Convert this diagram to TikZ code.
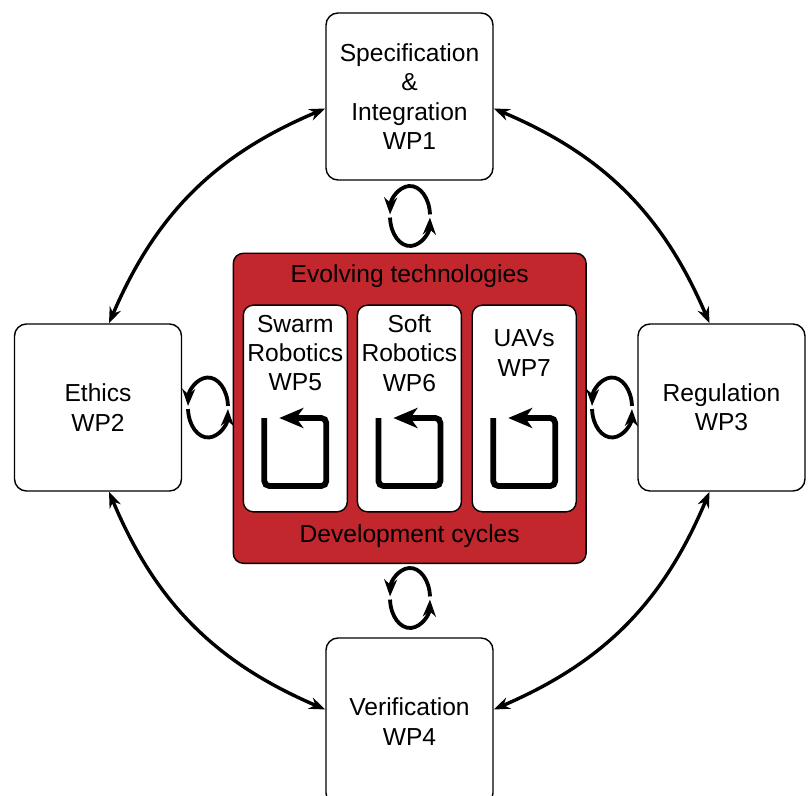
\documentclass[tikz,border=0pt]{standalone}
\usepackage{fontspec}
\setmainfont{Liberation Sans}
\definecolor{wpred}{RGB}{193,39,45}
\usepackage{tikz}
\usetikzlibrary{arrows.meta,positioning,calc}

\begin{document}
\begin{tikzpicture}[x=0.5pt,y=-0.5pt,>=Stealth,
    font=\fontsize{12.3}{14.7}\selectfont,
    wpbox/.style={draw,fill=white,rounded corners=6pt,line width=0.7pt,
        minimum width=83.5pt,minimum height=83.5pt,align=center},
    techbox/.style={draw,fill=white,rounded corners=5pt,line width=0.7pt,
        minimum width=52pt,minimum height=103.3pt},
    link/.style={{Stealth[length=8pt,width=6pt]}-{Stealth[length=8pt,width=6pt]},
        line width=1.7pt},
    loopline/.style={-{Stealth[length=8.5pt,width=6.5pt]},line width=1.9pt},
    cycicon/.style={-{Stealth[length=12pt,width=10pt,inset=3.5pt]},line width=2.9pt,
        rounded corners=2.5pt}]
  \useasboundingbox (0,0) rectangle (808,796);
  %% Outer work packages
  \node[wpbox] (spec) at (409.5,96.5) {Specification\\\&\\Integration\\WP1};
  \node[wpbox] (eth)  at (98,407.5)   {Ethics\\WP2};
  \node[wpbox] (reg)  at (721.5,407.5) {Regulation\\WP3};
  \node[wpbox] (ver)  at (409.5,721.5) {Verification\\WP4};
  %% Evolving technologies block
  \node[draw,fill=wpred,rounded corners=5pt,line width=0.7pt,
        minimum width=176.4pt,minimum height=155pt] (tech) at (409.7,408.3) {};
  \node (evo) at (409.7,276) {Evolving technologies};
  \node (dev) at (409.7,536) {Development cycles};
  \node[techbox] (wp5) at (295.3,408.5) {};
  \node[techbox] (wp6) at (409.4,408.5) {};
  \node[techbox] (wp7) at (524.2,408.5) {};
  \node[align=center] (t5) at (295.3,353) {Swarm\\Robotics\\WP5};
  \node[align=center] (t6) at (409.4,353) {Soft\\Robotics\\WP6};
  \node[align=center] (t7) at (524.2,353) {UAVs\\WP7};
  \foreach \b in {wp5,wp6,wp7}{
    \begin{scope}[shift={(\b.center)}]
      \draw[cycicon] (-31,9.5) -- (-31,77.5) -- (31,77.5) -- (31,9.5) -- (-16,9.5);
    \end{scope}
  }
  %% Links between work packages
  \draw[link] ([yshift=-6pt]spec.west) to[bend right=22] ([xshift=5.5pt]eth.north);
  \draw[link] ([xshift=5.5pt]eth.south) to[bend right=22] ([yshift=6pt]ver.west);
  \draw[link] ([yshift=6pt]ver.east) to[bend right=22] ([xshift=-6pt]reg.south);
  \draw[link] ([xshift=-6pt]reg.north) to[bend right=22] ([yshift=-6pt]spec.east);
  %% Self loops
  \coordinate (ltop) at (410,216);
  \coordinate (lleft) at (208,407.5);
  \coordinate (lright) at (612,407.5);
  \coordinate (lbot) at (410,598);
  \foreach \c in {ltop,lleft,lright,lbot}{
    \draw[loopline] (\c) ++(3:10pt and 15pt)
        arc[start angle=3,end angle=177,x radius=10pt,y radius=15pt];
    \draw[loopline] (\c) ++(183:10pt and 15pt)
        arc[start angle=183,end angle=357,x radius=10pt,y radius=15pt];
  }
\end{tikzpicture}
\end{document}
